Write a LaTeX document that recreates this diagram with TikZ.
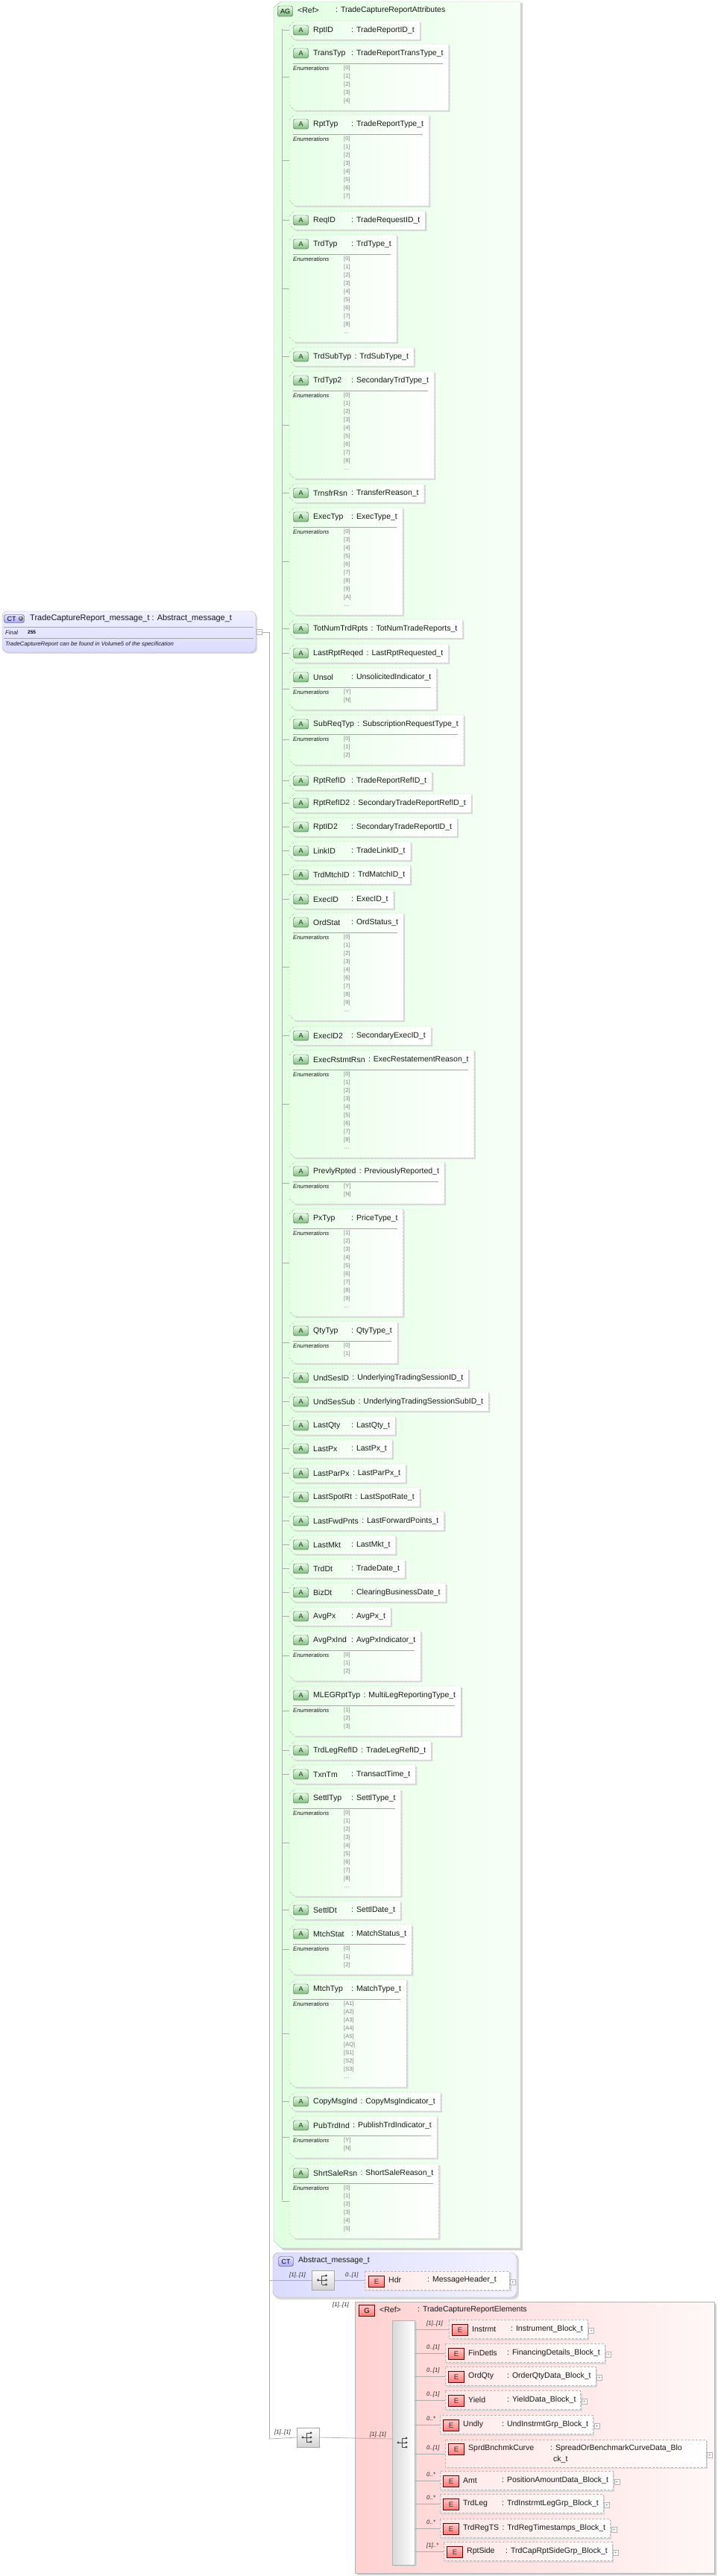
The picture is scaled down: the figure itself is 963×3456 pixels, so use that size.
\documentclass[tikz,border=0pt]{standalone}
\usepackage{fontspec}
\setmainfont{Liberation Sans}
\usetikzlibrary{calc,shadings}
\pgfdeclarelayer{bgw}\pgfdeclarelayer{bgz}\pgfdeclarelayer{bgy}
\pgfsetlayers{bgw,bgz,bgy,main}
\tikzset{
  ln/.style={draw=gray!65,line width=0.7pt},
  nmst/.style={anchor=west,inner sep=0pt,font=\fontsize{10.5}{11}\selectfont,text=black!90},
  enst/.style={anchor=west,inner sep=0pt,font=\fontsize{7.5}{8}\selectfont,text=gray},
  enlab/.style={anchor=west,inner sep=0pt,font=\itshape\fontsize{7.8}{8}\selectfont,text=black!90},
  mult/.style={anchor=west,inner sep=0pt,font=\itshape\fontsize{7.8}{8}\selectfont,text=black!85},
  aicon/.style={draw=gray!50!black,top color=green!10,bottom color=green!45!black!50,rounded corners=2.5pt,minimum width=20pt,minimum height=13pt,inner sep=0pt,font=\fontsize{9}{9}\selectfont,text=black!85},
  eicon/.style={draw=red!40!black,top color=red!20,bottom color=red!55,minimum width=21pt,minimum height=15pt,inner sep=0pt,font=\fontsize{9.5}{9.5}\selectfont,text=black!80},
  plusic/.style={draw=gray!60,fill=white,minimum size=7pt,inner sep=0pt,font=\fontsize{7}{7}\selectfont,text=gray},
  seqic/.style={draw=gray!70,top color=white,bottom color=gray!35,minimum width=30pt,minimum height=26pt,inner sep=0pt},
}
\newcommand\xgetx[2]{\path let \p1=(#1) in \pgfextra{\pgfmathparse{\x1}\xdef#2{\pgfmathresult}};}
\newcommand\seqglyph[1]{%
  \fill[black!70] ($(#1)+(-7,0)$) circle (1.6);
  \draw[black!70,line width=0.8pt] ($(#1)+(-7,0)$)--($(#1)+(-2,0)$) ($(#1)+(-2,-6)$)--($(#1)+(-2,6)$)
    ($(#1)+(-2,-6)$)--($(#1)+(3,-6)$) ($(#1)+(-2,6)$)--($(#1)+(3,6)$) ($(#1)+(-2,0)$)--($(#1)+(3,0)$);
  \foreach \q in {-6,0,6}{\fill[black!70] ($(#1)+(4,\q)$) circle (1.6);}
}
% #1 name #2 type #3 top #4 dash #5 n lines #6 items
\newcommand\attr[6]{%
  \pgfmathsetmacro\aT{#3}%
  \pgfmathsetmacro\aC{#3+12.5}%
  \pgfmathsetmacro\aB{#5==0 ? #3+25 : #3+34+11*#5}%
  \pgfmathsetmacro\aM{(\aT+\aB)/2}%
  \node[aicon] at (403.5,\aC) {A};
  \node[nmst] (an) at (420,\aC) {#1};
  \xgetx{an.east}\xa
  \pgfmathsetmacro\xt{max(\xa+4,471)}%
  \node[nmst] (at) at (\xt,\aC) {: #2};
  \xgetx{at.east}\xb
  \pgfmathsetmacro\aR{\xb+7}%
  \begin{pgfonlayer}{bgy}
  \fill[gray!30] (390,\aT+9)--(397,\aT+2)--(\aR+2,\aT+2)--(\aR+2,\aB+2)--(397,\aB+2)--(390,\aB-5)--cycle;
  \shade[left color=green!10,right color=white,draw=gray!55,#4,dash pattern=on 3pt off 2pt] (388,\aT+7)--(395,\aT)--(\aR,\aT)--(\aR,\aB)--(395,\aB)--(388,\aB-7)--cycle;
  \end{pgfonlayer}
  \ifnum#5>0
    \draw[gray!70] (393,\aT+26)--(\aR-8,\aT+26);
    \node[enlab] at (393,\aT+33) {Enumerations};
    \foreach \e [count=\i from 0] in {#6} \node[enst] at (461,\aT+33+11*\i) {\e};
  \fi
  \draw[ln] (378,\aM)--(388,\aM);
}
% #1 name #2 type #3 yc #4 left #5 dash #6 mult
\newcommand\elem[6]{%
  \pgfmathsetmacro\eT{#3-12.5}\pgfmathsetmacro\eB{#3+12.5}%
  \node[eicon] at (#4+15,#3+1) {E};
  \node[nmst] (en) at (#4+31,#3) {#1};
  \xgetx{en.east}\xa
  \pgfmathsetmacro\xt{max(\xa+4,#4+83)}%
  \node[nmst] (et) at (\xt,#3) {: #2};
  \xgetx{et.east}\xb
  \pgfmathsetmacro\eR{\xb+6}%
  \begin{pgfonlayer}{bgy}
  \fill[gray!30] (#4+2,\eT+2) rectangle (\eR+2,\eB+2);
  \shade[left color=red!10,right color=white,draw=gray!55,#5,dash pattern=on 3pt off 2pt] (#4,\eT) rectangle (\eR,\eB);
  \end{pgfonlayer}
  \node[plusic] at (\eR+5,#3+2) {+};
  \draw[ln] (556,#3)--(#4,#3);
  \node[mult] at (572,#3-8) {#6};
}
\begin{document}
\begin{tikzpicture}[x=1pt,y=-1pt]
\useasboundingbox (0,0) rectangle (963,3456);
\begin{pgfonlayer}{bgw}
\fill[white] (0,0) rectangle (963,3456);
\end{pgfonlayer}
% main CT
\begin{pgfonlayer}{bgy}
\fill[gray!30,rounded corners=7pt] (5,822) rectangle (345,877);
\shade[top color=blue!6,bottom color=blue!14,draw=gray!60,rounded corners=7pt] (3,820) rectangle (343,875);
\end{pgfonlayer}
\node[draw=gray!50!black,top color=blue!10,bottom color=blue!35,rounded corners=3pt,minimum width=27pt,minimum height=11pt,inner sep=0pt,font=\fontsize{9}{9}\selectfont] (cti) at (19,830) {CT\,\phantom{+}};
\fill[black!55] (28,830) circle (3.3);
\node[white,font=\bfseries\fontsize{6}{6}\selectfont,inner sep=0] at (28,830) {+};
\node[nmst,font=\fontsize{11}{12}\selectfont] (ctt) at (40,830) {TradeCaptureReport\_message\_t : Abstract\_message\_t};
\draw[gray!70] (5,841)--(340,841) (5,856)--(340,856);
\node[enlab] at (7,848.5) {Final};
\node[anchor=west,inner sep=0,font=\bfseries\fontsize{6.5}{7}\selectfont] at (37,848) {255};
\node[enlab] at (7,864.5) {TradeCaptureReport can be found in Volume5 of the specification};
\node[plusic] (ctx) at (348,848) {--};
% tree from CT
\draw[ln] (ctx.east)--(361,848)--(361,3272);
% AG group
\begin{pgfonlayer}{bgz}
\fill[gray!35] (370,12)--(380,4)--(701,4)--(701,3019)--(380,3019)--(370,3009)--cycle;
\shade[left color=green!12,right color=green!3,draw=gray!60] (367,10)--(377,2)--(698,2)--(698,3016)--(377,3016)--(367,3006)--cycle;
\end{pgfonlayer}
\node[draw=gray!50!black,top color=green!10,bottom color=green!45!black!50,rounded corners=2.5pt,minimum width=20pt,minimum height=14pt,inner sep=0pt,font=\fontsize{9}{9}\selectfont] at (382.5,15) {AG};
\node[nmst] at (399,14) {<Ref>};
\node[nmst] at (450,14) {: TradeCaptureReportAttributes};
\draw[ln] (378,39)--(378,2952);
\attr{RptID}{TradeReportID\_t}{28}{solid}{0}{}
\attr{TransTyp}{TradeReportTransType\_t}{59}{dashed}{5}{{[0]},{[1]},{[2]},{[3]},{[4]}}
\attr{RptTyp}{TradeReportType\_t}{154}{dashed}{8}{{[0]},{[1]},{[2]},{[3]},{[4]},{[5]},{[6]},{[7]}}
\attr{ReqID}{TradeRequestID\_t}{283}{dashed}{0}{}
\attr{TrdTyp}{TrdType\_t}{315}{dashed}{10}{{[0]},{[1]},{[2]},{[3]},{[4]},{[5]},{[6]},{[7]},{[8]},{\ldots}}
\attr{TrdSubTyp}{TrdSubType\_t}{466}{dashed}{0}{}
\attr{TrdTyp2}{SecondaryTrdType\_t}{498}{dashed}{10}{{[0]},{[1]},{[2]},{[3]},{[4]},{[5]},{[6]},{[7]},{[8]},{\ldots}}
\attr{TrnsfrRsn}{TransferReason\_t}{649}{dashed}{0}{}
\attr{ExecTyp}{ExecType\_t}{681}{dashed}{10}{{[0]},{[3]},{[4]},{[5]},{[6]},{[7]},{[8]},{[9]},{[A]},{\ldots}}
\attr{TotNumTrdRpts}{TotNumTradeReports\_t}{831}{dashed}{0}{}
\attr{LastRptReqed}{LastRptRequested\_t}{864}{dashed}{0}{}
\attr{Unsol}{UnsolicitedIndicator\_t}{896}{dashed}{2}{{[Y]},{[N]}}
\attr{SubReqTyp}{SubscriptionRequestType\_t}{959}{dashed}{3}{{[0]},{[1]},{[2]}}
\attr{RptRefID}{TradeReportRefID\_t}{1035}{dashed}{0}{}
\attr{RptRefID2}{SecondaryTradeReportRefID\_t}{1065}{dashed}{0}{}
\attr{RptID2}{SecondaryTradeReportID\_t}{1097}{dashed}{0}{}
\attr{LinkID}{TradeLinkID\_t}{1129}{dashed}{0}{}
\attr{TrdMtchID}{TrdMatchID\_t}{1161}{dashed}{0}{}
\attr{ExecID}{ExecID\_t}{1194}{dashed}{0}{}
\attr{OrdStat}{OrdStatus\_t}{1225}{dashed}{10}{{[0]},{[1]},{[2]},{[3]},{[4]},{[6]},{[7]},{[8]},{[9]},{\ldots}}
\attr{ExecID2}{SecondaryExecID\_t}{1377}{dashed}{0}{}
\attr{ExecRstmtRsn}{ExecRestatementReason\_t}{1409}{dashed}{10}{{[0]},{[1]},{[2]},{[3]},{[4]},{[5]},{[6]},{[7]},{[8]},{\ldots}}
\attr{PrevlyRpted}{PreviouslyReported\_t}{1559}{solid}{2}{{[Y]},{[N]}}
\attr{PxTyp}{PriceType\_t}{1622}{dashed}{10}{{[1]},{[2]},{[3]},{[4]},{[5]},{[6]},{[7]},{[8]},{[9]},{\ldots}}
\attr{QtyTyp}{QtyType\_t}{1773}{dashed}{2}{{[0]},{[1]}}
\attr{UndSesID}{UnderlyingTradingSessionID\_t}{1836}{dashed}{0}{}
\attr{UndSesSub}{UnderlyingTradingSessionSubID\_t}{1868}{dashed}{0}{}
\attr{LastQty}{LastQty\_t}{1900}{solid}{0}{}
\attr{LastPx}{LastPx\_t}{1931}{solid}{0}{}
\attr{LastParPx}{LastParPx\_t}{1964}{dashed}{0}{}
\attr{LastSpotRt}{LastSpotRate\_t}{1996}{dashed}{0}{}
\attr{LastFwdPnts}{LastForwardPoints\_t}{2028}{dashed}{0}{}
\attr{LastMkt}{LastMkt\_t}{2060}{dashed}{0}{}
\attr{TrdDt}{TradeDate\_t}{2092}{solid}{0}{}
\attr{BizDt}{ClearingBusinessDate\_t}{2124}{dashed}{0}{}
\attr{AvgPx}{AvgPx\_t}{2156}{dashed}{0}{}
\attr{AvgPxInd}{AvgPxIndicator\_t}{2188}{dashed}{3}{{[0]},{[1]},{[2]}}
\attr{MLEGRptTyp}{MultiLegReportingType\_t}{2262}{dashed}{3}{{[1]},{[2]},{[3]}}
\attr{TrdLegRefID}{TradeLegRefID\_t}{2336}{dashed}{0}{}
\attr{TxnTm}{TransactTime\_t}{2368}{solid}{0}{}
\attr{SettlTyp}{SettlType\_t}{2400}{dashed}{10}{{[0]},{[1]},{[2]},{[3]},{[4]},{[5]},{[6]},{[7]},{[8]},{\ldots}}
\attr{SettlDt}{SettlDate\_t}{2550}{dashed}{0}{}
\attr{MtchStat}{MatchStatus\_t}{2582}{dashed}{3}{{[0]},{[1]},{[2]}}
\attr{MtchTyp}{MatchType\_t}{2656}{dashed}{10}{{[A1]},{[A2]},{[A3]},{[A4]},{[A5]},{[AQ]},{[S1]},{[S2]},{[S3]},{\ldots}}
\attr{CopyMsgInd}{CopyMsgIndicator\_t}{2807}{dashed}{0}{}
\attr{PubTrdInd}{PublishTrdIndicator\_t}{2839}{dashed}{2}{{[Y]},{[N]}}
\attr{ShrtSaleRsn}{ShortSaleReason\_t}{2903}{dashed}{6}{{[0]},{[1]},{[2]},{[3]},{[4]},{[5]}}
% Abstract_message_t
\begin{pgfonlayer}{bgz}
\fill[gray!30,rounded corners=8pt] (368,3024) rectangle (696,3085);
\shade[left color=blue!14,right color=blue!5,draw=gray!60,rounded corners=8pt] (366,3022) rectangle (693,3082);
\end{pgfonlayer}
\node[draw=gray!50!black,top color=blue!10,bottom color=blue!35,rounded corners=3pt,minimum width=20pt,minimum height=13pt,inner sep=0pt,font=\fontsize{9}{9}\selectfont] at (383.5,3034) {CT};
\node[nmst] at (400,3033) {Abstract\_message\_t};
\node[seqic] (as) at (433.5,3059) {};
\seqglyph{as}
\draw[ln] (361,3059)--(as.west);
\node[mult] at (388,3052) {[1]..[1]};
\node[mult] at (463,3052) {0..[1]};
\begin{pgfonlayer}{bgy}
\fill[gray!30] (491,3049) rectangle (686,3074);
\shade[left color=red!10,right color=white,draw=gray!55,dashed,dash pattern=on 3pt off 2pt] (489,3047) rectangle (683,3072);
\end{pgfonlayer}
\draw[ln] (as.east)--(489,3059);
\node[eicon] at (505,3061) {E};
\node[nmst] at (521,3059) {Hdr};
\node[nmst] at (573,3059) {: MessageHeader\_t};
\node[plusic] at (688,3062) {+};
% Elements group
\begin{pgfonlayer}{bgz}
\fill[gray!35] (479,3091) rectangle (961,3455);
\shade[left color=red!18,right color=red!3,draw=gray!60] (476,3088) rectangle (958,3452);
\end{pgfonlayer}
\node[draw=red!40!black,top color=red!20,bottom color=red!55,minimum width=21pt,minimum height=15pt,inner sep=0pt,font=\fontsize{9.5}{9.5}\selectfont] at (492,3100) {G};
\node[nmst] at (509,3099) {<Ref>};
\node[nmst] at (560,3099) {: TradeCaptureReportElements};
\node[mult] at (446,3092) {[1]..[1]};
\node[seqic] (os) at (413,3270) {};
\seqglyph{os}
\draw[ln] (361,3272)--(os.west);
\node[mult] at (368,3263) {[1]..[1]};
\begin{pgfonlayer}{bgy}
\fill[gray!35] (528,3115) rectangle (559,3443);
\shade[left color=gray!30,right color=white,draw=gray!60] (526,3113) rectangle (556,3441);
\end{pgfonlayer}
\coordinate (isq) at (541,3277);
\seqglyph{isq}
\draw[ln] (os.east)--(526,3272);
\node[mult] at (496,3266) {[1]..[1]};
\elem{Instrmt}{Instrument\_Block\_t}{3125}{602}{solid}{[1]..[1]}
\elem{FinDetls}{FinancingDetails\_Block\_t}{3157}{597}{dashed}{0..[1]}
\elem{OrdQty}{OrderQtyData\_Block\_t}{3188}{597}{dashed}{0..[1]}
\elem{Yield}{YieldData\_Block\_t}{3220}{597}{dashed}{0..[1]}
\elem{Undly}{UndInstrmtGrp\_Block\_t}{3253}{590}{dashed}{0..*}
\elem{Amt}{PositionAmountData\_Block\_t}{3328}{590}{dashed}{0..*}
\elem{TrdLeg}{TrdInstrmtLegGrp\_Block\_t}{3359}{590}{dashed}{0..*}
\elem{TrdRegTS}{TrdRegTimestamps\_Block\_t}{3392}{590}{dashed}{0..*}
\elem{RptSide}{TrdCapRptSideGrp\_Block\_t}{3423}{595}{solid}{[1]..*}
% SprdBnchmkCurve (two-line type)
\begin{pgfonlayer}{bgy}
\fill[gray!30] (599,3275) rectangle (949,3312);
\shade[left color=red!10,right color=white,draw=gray!55,dashed,dash pattern=on 3pt off 2pt] (597,3273) rectangle (947,3310);
\end{pgfonlayer}
\node[eicon] at (612,3286) {E};
\node[nmst] at (628,3285) {SprdBnchmkCurve};
\node[nmst] at (738,3285) {: SpreadOrBenchmarkCurveData\_Blo};
\node[nmst] at (742,3300) {ck\_t};
\node[plusic] at (952,3294) {+};
\draw[ln] (556,3292)--(597,3292);
\node[mult] at (572,3284) {0..[1]};
\end{tikzpicture}
\end{document}
